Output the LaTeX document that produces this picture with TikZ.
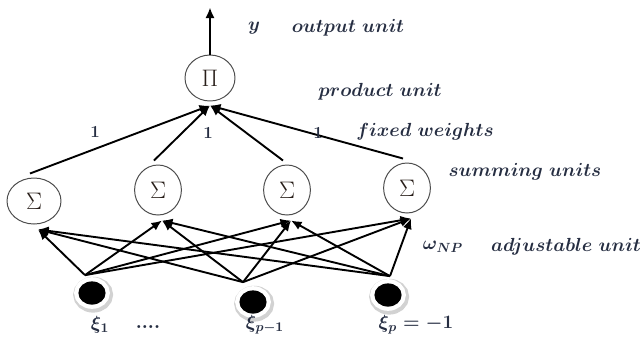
\RequirePackage{fix-cm}
\documentclass[tikz,border=0pt]{standalone}
\usepackage{amsmath,amssymb}
\usetikzlibrary{arrows.meta,shapes.geometric}
\definecolor{labcol}{RGB}{38,46,66}
\definecolor{symcol}{RGB}{40,30,25}
\tikzset{
  link/.style={-{Latex[length=7.5pt,width=6.5pt]}, line width=1.35pt},
  sumunit/.style={ellipse, draw=gray!60!black, line width=0.7pt, inner sep=0pt,
    minimum width=1.17cm, minimum height=1.25cm, text=symcol,
    font=\fontsize{17}{19}\selectfont},
  inputdot/.style={ellipse, fill=black, inner sep=0pt,
    minimum width=0.68cm, minimum height=0.58cm,
    preaction={draw=gray!35, line width=9pt, transform canvas={shift={(0.8pt,-1.2pt)}}},
    preaction={draw=white, line width=6pt}},
  lab/.style={text=labcol, inner sep=0pt, font=\fontsize{13.5}{16}\selectfont\boldmath},
  weight/.style={text=labcol, inner sep=0pt, font=\fontsize{12}{14}\selectfont\bfseries},
}

\begin{document}
\begin{tikzpicture}[x=0.25mm, y=-0.25mm]
  \useasboundingbox (0,0) rectangle (641,341);

  % Units
  \node[sumunit, minimum width=1.35cm, minimum height=1.15cm] (s1) at (34,201) {$\Sigma$};
  \node[sumunit] (s2) at (158,190) {$\Sigma$};
  \node[sumunit] (s3) at (287,190) {$\Sigma$};
  \node[sumunit] (s4) at (407,188) {$\Sigma$};
  \node[sumunit, minimum width=1.25cm, minimum height=1.15cm] (p) at (210,78) {$\Pi$};

  % Inputs
  \node[inputdot] (i1) at (92,293) {};
  \node[inputdot] (i2) at (253,302) {};
  \node[inputdot] (i3) at (388,295) {};

  % Ends of the connectors
  \coordinate (y) at ([shift={(0,-47)}]p.north);
  \coordinate (pin) at ([shift={(0,4)}]p.south);
  \coordinate (f1) at ([shift={(-7,-6)}]i1.north);
  \coordinate (f2) at ([shift={(-10,-8)}]i2.north);
  \coordinate (f3) at ([shift={(2,-7)}]i3.north);
  \foreach \s in {1,...,4} {
    \coordinate (in\s) at ([shift={(4,5)}]s\s.south);
    \coordinate (out\s) at ([shift={(-4,-4)}]s\s.north);
  }

  % Connectors
  \foreach \i in {1,2,3}
    \foreach \s in {1,...,4}
      \draw[link] (f\i) -- (in\s);
  \foreach \s in {1,...,4}
    \draw[link] (out\s) -- (pin);
  \draw[link] (p.north) -- (y);

  % Weights
  \node[weight] (w1) at (95,132) {1};
  \node[weight] (w2) at (208,133) {1};
  \node[weight] (w3) at (318,133) {1};

  % Labels
  \node[lab] (ylab) at (254,28) {$y$};
  \node[lab] (outlab) at (348,28) {$output\ unit$};
  \node[lab] (prodlab) at (380,92) {$product\ unit$};
  \node[lab] (fixlab) at (425,132) {$fixed\ weights$};
  \node[lab] (sumlab) at (525,172) {$summing\ units$};
  \node[lab] (omlab) at (443,247) {$\omega_{NP}$};
  \node[lab] (adjlab) at (566,247) {$adjustable\ unit$};
  \node[lab] (x1) at (100,325) {$\xi_1$};
  \node[lab] (dots) at (148,327) {$....$};
  \node[lab] (x2) at (265,325) {$\xi_{p-1}$};
  \node[lab] (x3) at (416,325) {$\xi_p=-1$};
\end{tikzpicture}
\end{document}
